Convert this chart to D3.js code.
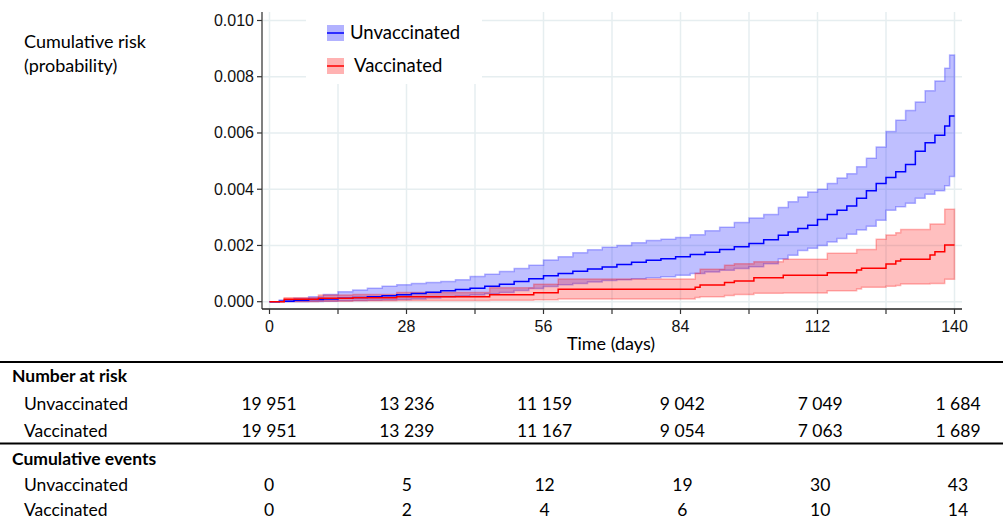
<!DOCTYPE html>
<html>
<head>
<meta charset="utf-8">
<script src="https://cdn.jsdelivr.net/npm/d3@7"></script>
<style>
  body { margin: 0; background: #fff; }
  svg { display: block; }
</style>
</head>
<body>
<div id="chart"></div>
<script>
// step data (time in days, cumulative risk)
const unvacTimes = [0, 2, 5, 8, 11, 14, 17, 20, 23, 26, 29, 32, 35, 38, 41, 44, 47, 50, 53, 56, 59, 62, 65, 68, 71, 74, 77, 80, 83, 86, 89, 92, 95, 98, 101, 104, 106, 108, 110, 112, 114, 116, 118, 120, 122, 124, 126, 128, 130, 132, 134, 136, 138, 139, 140];
const unvacRisk = [0, 0.00002, 0.00005, 0.00008, 0.0001, 0.00012, 0.00015, 0.00018, 0.00021, 0.00025, 0.00029, 0.00034, 0.00039, 0.00043, 0.00048, 0.00055, 0.00062, 0.00072, 0.00082, 0.00092, 0.001, 0.00108, 0.00116, 0.00123, 0.00132, 0.0014, 0.00147, 0.00153, 0.0016, 0.00168, 0.00176, 0.00186, 0.00195, 0.00207, 0.0022, 0.00236, 0.00248, 0.0026, 0.00272, 0.00292, 0.0031, 0.00325, 0.0034, 0.00368, 0.00395, 0.0042, 0.00442, 0.00462, 0.00488, 0.00535, 0.00565, 0.00592, 0.00625, 0.0066, 0.0066];
const unvacUpper = [0, 0.00006, 0.00012, 0.00018, 0.00026, 0.00035, 0.00042, 0.00048, 0.00055, 0.0006, 0.00065, 0.00068, 0.00072, 0.00078, 0.0009, 0.00098, 0.00107, 0.00118, 0.0013, 0.00148, 0.0016, 0.00174, 0.00185, 0.00194, 0.002, 0.0021, 0.00218, 0.00222, 0.00228, 0.00238, 0.00252, 0.00265, 0.00282, 0.00298, 0.0031, 0.00335, 0.00355, 0.00372, 0.0039, 0.004, 0.0042, 0.0044, 0.00455, 0.0048, 0.0051, 0.0055, 0.00605, 0.00645, 0.0068, 0.0071, 0.0075, 0.00785, 0.0083, 0.00877, 0.00877];
const unvacLower = [0, 0, 0, 0.00001, 0.00002, 0.00003, 0.00004, 0.00005, 0.00006, 0.00008, 0.0001, 0.00013, 0.00017, 0.0002, 0.00024, 0.00028, 0.00033, 0.0004, 0.00047, 0.00054, 0.0006, 0.00065, 0.0007, 0.00075, 0.00078, 0.00082, 0.00085, 0.00089, 0.00094, 0.001, 0.00106, 0.00112, 0.00118, 0.00124, 0.00135, 0.00152, 0.00165, 0.00182, 0.0019, 0.002, 0.00212, 0.00225, 0.0024, 0.00255, 0.00268, 0.0029, 0.00325, 0.00338, 0.0035, 0.00368, 0.00382, 0.00395, 0.00412, 0.00445, 0.00445];

const vacTimes = [0, 3, 10, 17, 26, 45, 54, 59, 87, 88, 93, 95, 99, 105, 114, 120, 121, 124, 126, 128, 129, 135, 136, 138, 140];
const vacRisk = [0, 0.00009, 0.00012, 0.00014, 0.00018, 0.00025, 0.00032, 0.00044, 0.00051, 0.00059, 0.00068, 0.00074, 0.00085, 0.00094, 0.00103, 0.00113, 0.00119, 0.00119, 0.00134, 0.00145, 0.00151, 0.00166, 0.00178, 0.00202, 0.00202];
const vacUpper = [0, 0.00014, 0.00024, 0.00026, 0.00033, 0.0005, 0.00062, 0.00081, 0.00101, 0.00115, 0.0013, 0.00135, 0.00142, 0.00151, 0.00172, 0.00186, 0.00186, 0.00222, 0.00237, 0.00245, 0.00257, 0.00276, 0.00276, 0.00329, 0.00329];
const vacLower = [0, 0.00001, 0.00002, 0.00003, 0.00004, 0.00005, 0.00007, 0.0001, 0.00015, 0.00018, 0.00022, 0.00026, 0.0003, 0.00031, 0.00039, 0.00045, 0.00051, 0.00051, 0.00055, 0.00058, 0.00063, 0.00065, 0.00065, 0.0008, 0.0008];

const yTicks = [0, 0.002, 0.004, 0.006, 0.008, 0.010];
const xTicks = [0, 14, 28, 42, 56, 70, 84, 98, 112, 126, 140];
const xLabels = [0, 28, 56, 84, 112, 140];

const groups = ["Unvaccinated", "Vaccinated"];
const atRiskUnvac = ["19 951", "13 236", "11 159", "9 042", "7 049", "1 684"];
const atRiskVac = ["19 951", "13 239", "11 167", "9 054", "7 063", "1 689"];
const eventsUnvac = ["0", "5", "12", "19", "30", "43"];
const eventsVac = ["0", "2", "4", "6", "10", "14"];

const width = 1003, height = 520;
const sans = "Lato, 'Noto Sans', sans-serif";
const arial = "'Liberation Sans', Arial, sans-serif";

let svg = d3.select("#chart").append("svg")
    .attr("width", width)
    .attr("height", height);

let x = d3.scaleLinear().domain([0, 140]).range([269.5, 954.5]);
let y = d3.scaleLinear().domain([0, 0.010]).range([301.7, 20.5]);
let xCol = d3.scaleLinear().domain([0, 140]).range([269, 958]);

const plotLeft = 262, plotRight = 962, plotTop = 12, plotBottom = 309;

// grid
let grid = svg.append("g");
grid.selectAll("line.h").data(yTicks).join("line")
    .attr("x1", plotLeft).attr("x2", plotRight)
    .attr("y1", d => y(d)).attr("y2", d => y(d))
    .attr("stroke", "#e6eef0").attr("stroke-width", 1.5);
grid.selectAll("line.v").data(xTicks).join("line")
    .attr("x1", d => x(d)).attr("x2", d => x(d))
    .attr("y1", plotTop).attr("y2", plotBottom)
    .attr("stroke", "#e6eef0").attr("stroke-width", 1.5);

function stepData(times, lo, hi, est) {
    return times.map((t, i) => ({t: t, lo: lo[i], hi: hi[i], est: est[i]}));
}

let series = [
    {name: "Unvaccinated", color: "#0000ff", data: stepData(unvacTimes, unvacLower, unvacUpper, unvacRisk)},
    {name: "Vaccinated", color: "#ff0000", data: stepData(vacTimes, vacLower, vacUpper, vacRisk)}
];

let area = d3.area().curve(d3.curveStepAfter)
    .x(d => x(d.t)).y0(d => y(d.lo)).y1(d => y(d.hi));
let line = d3.line().curve(d3.curveStepAfter)
    .x(d => x(d.t)).y(d => y(d.est));

series.forEach(s => {
    svg.append("path")
        .attr("d", area(s.data))
        .attr("fill", s.color).attr("fill-opacity", 0.25)
        .attr("stroke", s.color).attr("stroke-opacity", 0.28)
        .attr("stroke-width", 1.5);
});
series.forEach(s => {
    svg.append("path")
        .attr("d", line(s.data))
        .attr("fill", "none")
        .attr("stroke", s.color).attr("stroke-width", 1.5);
});

// axes
svg.append("line")
    .attr("x1", plotLeft).attr("x2", plotLeft)
    .attr("y1", plotTop).attr("y2", plotBottom)
    .attr("stroke", "#808080").attr("stroke-width", 2);
svg.selectAll("line.yt").data(yTicks).join("line")
    .attr("x1", plotLeft - 5).attr("x2", plotLeft)
    .attr("y1", d => y(d)).attr("y2", d => y(d))
    .attr("stroke", "#333").attr("stroke-width", 1.2);
svg.selectAll("text.yl").data(yTicks).join("text")
    .attr("x", plotLeft - 8).attr("y", d => y(d) + 5.5)
    .attr("text-anchor", "end")
    .style("font-family", arial).style("font-size", "16px").attr("fill", "#111")
    .text(d => d3.format(".3f")(d));

svg.append("line")
    .attr("x1", plotLeft).attr("x2", plotRight)
    .attr("y1", plotBottom).attr("y2", plotBottom)
    .attr("stroke", "#222").attr("stroke-width", 1.5);
svg.selectAll("line.xt").data(xTicks).join("line")
    .attr("x1", d => x(d)).attr("x2", d => x(d))
    .attr("y1", plotBottom).attr("y2", plotBottom + 5)
    .attr("stroke", "#333").attr("stroke-width", 1.2);
svg.selectAll("text.xl").data(xLabels).join("text")
    .attr("x", d => x(d)).attr("y", plotBottom + 23)
    .attr("text-anchor", "middle")
    .style("font-family", arial).style("font-size", "16px").attr("fill", "#111")
    .text(d => d);

svg.append("text")
    .attr("x", 611).attr("y", 350)
    .attr("text-anchor", "middle")
    .style("font-family", sans).style("font-size", "18px")
    .text("Time (days)");

let yl = svg.append("text")
    .style("font-family", sans).style("font-size", "18px");
yl.append("tspan").attr("x", 24).attr("y", 48).text("Cumulative risk");
yl.append("tspan").attr("x", 24).attr("y", 72).text("(probability)");

// legend
let legend = svg.append("g");
legend.append("rect")
    .attr("x", 306).attr("y", 8).attr("width", 176).attr("height", 76)
    .attr("fill", "#fff");
series.forEach((s, i) => {
    let ly = 33 + i * 33;
    legend.append("rect")
        .attr("x", 327).attr("y", ly - 8).attr("width", 17).attr("height", 16)
        .attr("fill", s.color).attr("fill-opacity", 0.3);
    legend.append("line")
        .attr("x1", 327).attr("x2", 344).attr("y1", ly).attr("y2", ly)
        .attr("stroke", s.color).attr("stroke-opacity", 0.75).attr("stroke-width", 2);
    legend.append("text")
        .attr("x", 350 + i * 4).attr("y", ly + 6)
        .style("font-family", sans).style("font-size", "18.5px")
        .text(s.name);
});

// table
svg.append("line").attr("x1", 0).attr("x2", width).attr("y1", 362).attr("y2", 362)
    .attr("stroke", "#000").attr("stroke-width", 2);
svg.append("line").attr("x1", 0).attr("x2", width).attr("y1", 443.5).attr("y2", 443.5)
    .attr("stroke", "#000").attr("stroke-width", 2);

let rows = [
    {label: "Number at risk", bold: true, y: 382, vals: null},
    {label: groups[0], y: 409.5, vals: atRiskUnvac},
    {label: groups[1], y: 436.5, vals: atRiskVac},
    {label: "Cumulative events", bold: true, y: 464.5, vals: null},
    {label: groups[0], y: 491, vals: eventsUnvac},
    {label: groups[1], y: 515.5, vals: eventsVac}
];
rows.forEach(r => {
    svg.append("text")
        .attr("x", r.bold ? 12 : 24).attr("y", r.y)
        .style("font-family", sans).style("font-size", "17.5px")
        .style("font-weight", r.bold ? "bold" : "normal")
        .text(r.label);
    if (r.vals) {
        svg.selectAll(null).data(r.vals).join("text")
            .attr("x", (d, i) => xCol(xLabels[i])).attr("y", r.y)
            .attr("text-anchor", "middle")
            .style("font-family", sans).style("font-size", "17.5px")
            .text(d => d);
    }
});
</script>
</body>
</html>
